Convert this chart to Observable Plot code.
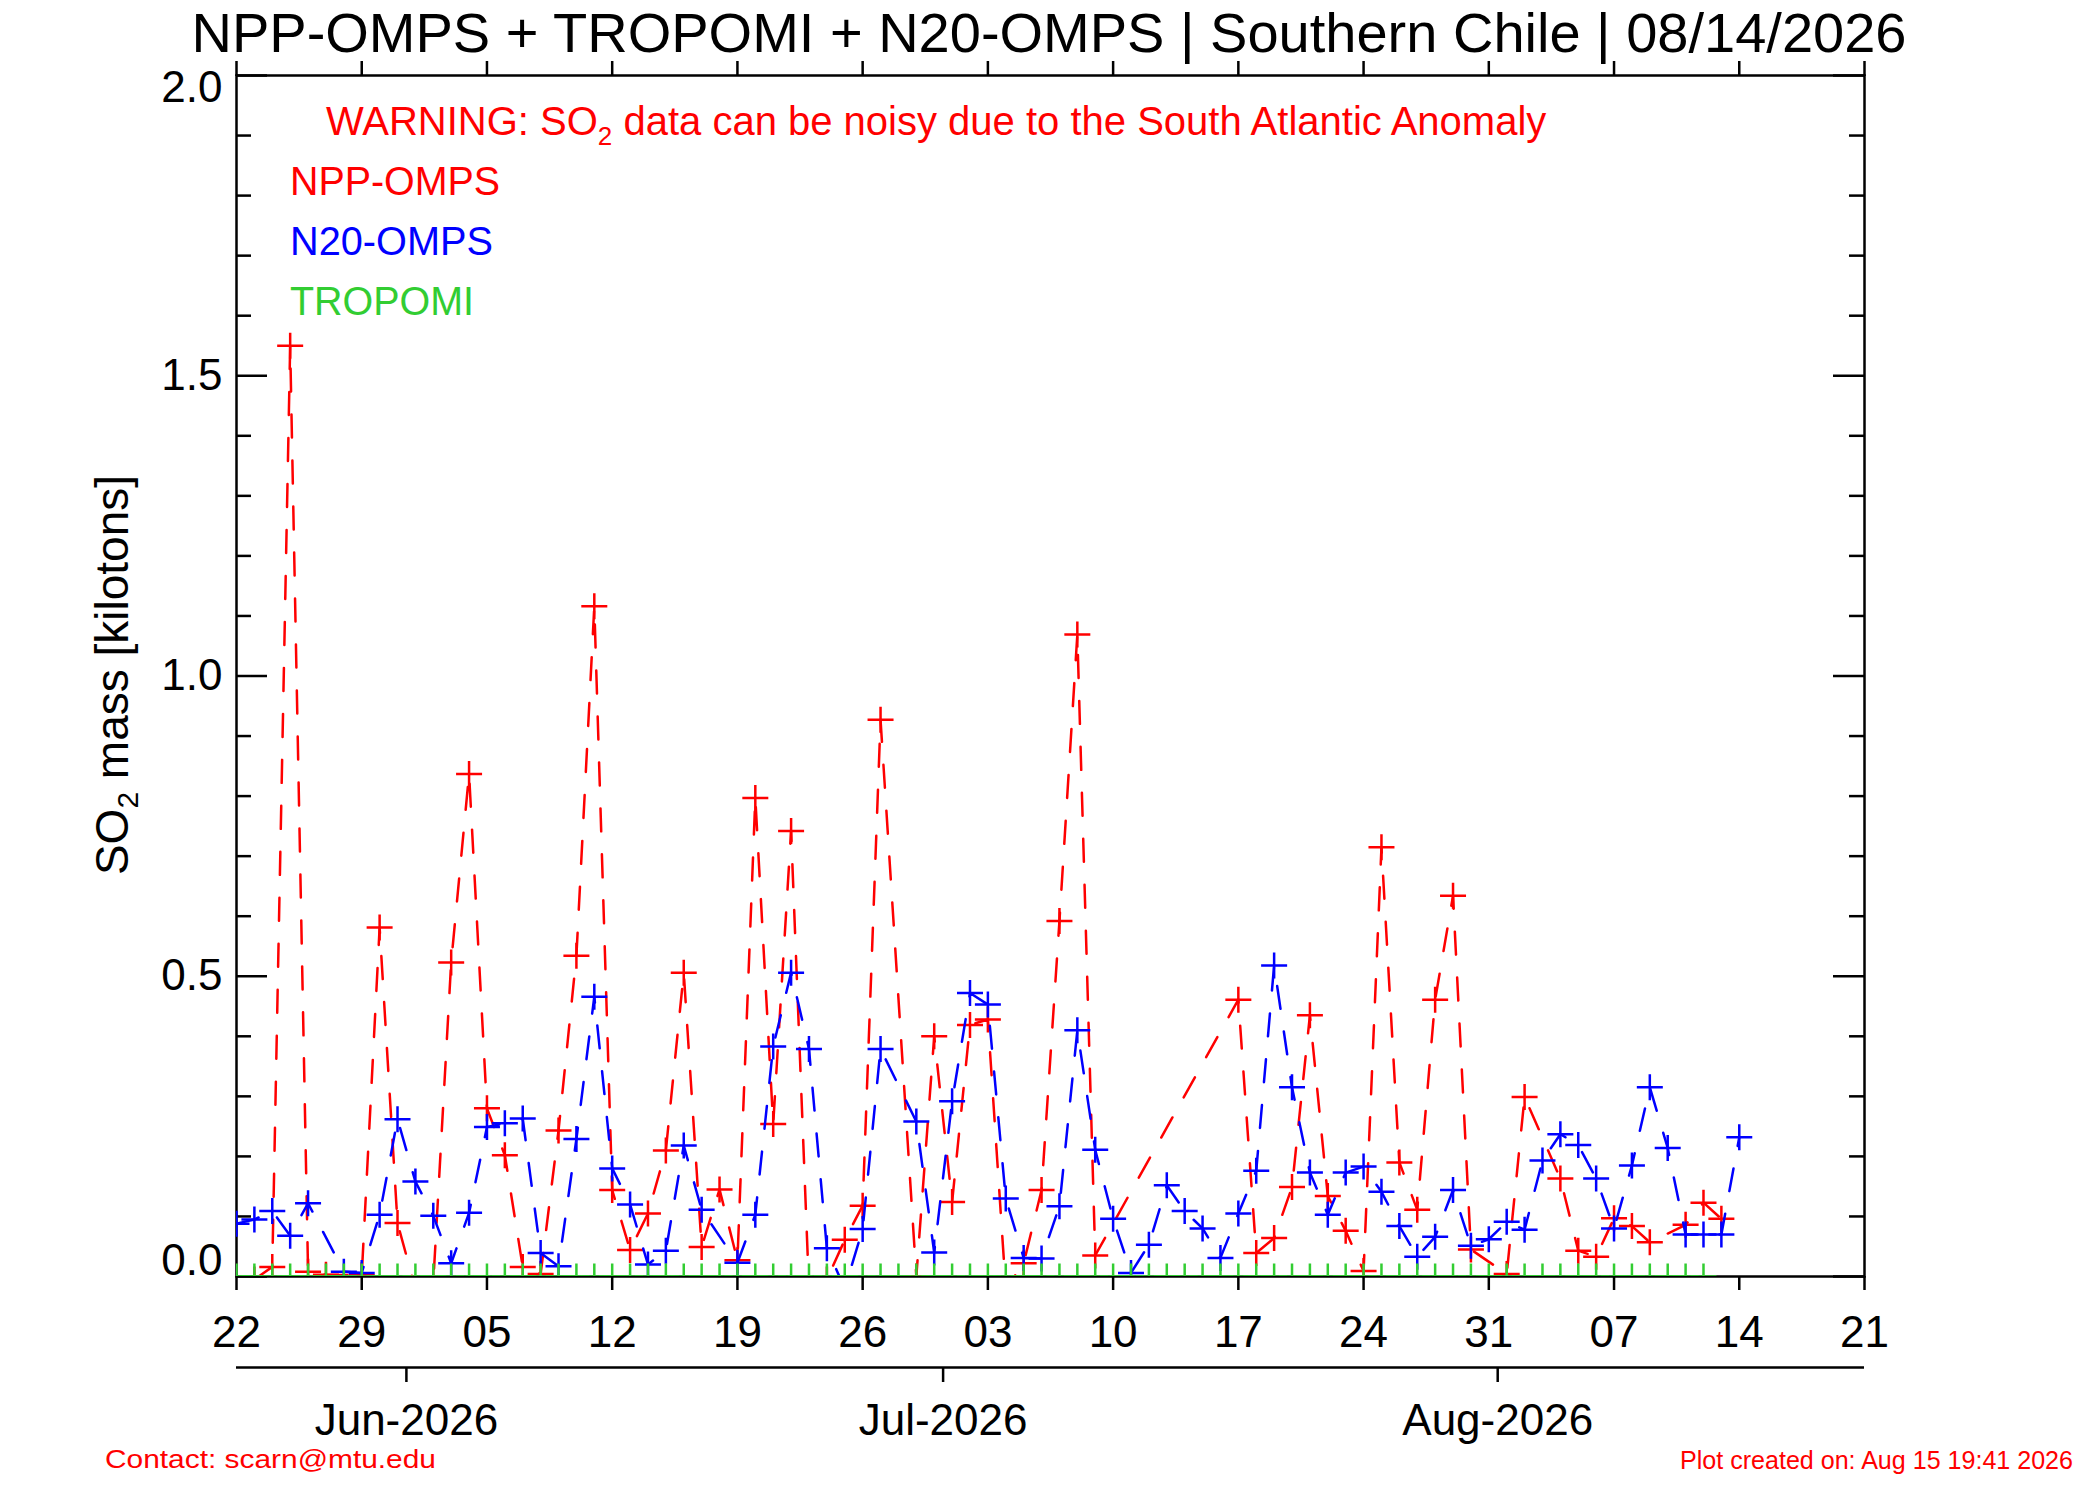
<!DOCTYPE html>
<html><head><meta charset="utf-8">
<script src="https://cdn.jsdelivr.net/npm/d3@7"></script>
<script src="https://cdn.jsdelivr.net/npm/@observablehq/plot@0.6"></script>
<style>body{margin:0;background:#fff;} svg{display:block}</style>
</head><body><div id="chart"></div>
<script>
const year = "2026";

// NPP-OMPS (red)
const nppDates = ["05-23","05-24","05-25","05-26","05-27","05-29","05-30","05-31",
  "06-01","06-02","06-03","06-04","06-05","06-06","06-07","06-08","06-09","06-10","06-11","06-12","06-13","06-14","06-15","06-16","06-17","06-18","06-19","06-20","06-21","06-22","06-23","06-24","06-25","06-26","06-27","06-29","06-30",
  "07-01","07-02","07-03","07-04","07-05","07-06","07-07","07-08","07-09","07-17","07-18","07-19","07-20","07-21","07-22","07-23","07-24","07-25","07-26","07-27","07-28","07-29","07-30",
  "08-01","08-02","08-04","08-05","08-06","08-07","08-08","08-09","08-11","08-12","08-13"];
const nppValues = [-0.005,0.016,1.55,0.008,0.003,0.002,0.581,0.089,
  -0.02,-0.01,0.523,0.837,0.280,0.202,0.016,0.004,0.243,0.534,1.116,0.144,0.044,0.105,0.210,0.506,0.049,0.145,0.027,0.797,0.254,0.742,-0.02,-0.005,0.061,0.118,0.927,0.0,0.400,
  0.124,0.419,0.428,-0.02,0.022,0.144,0.592,1.069,0.035,0.461,0.039,0.064,0.149,0.435,0.134,0.076,0.009,0.715,0.190,0.111,0.461,0.634,0.045,
  0.004,0.299,0.163,0.043,0.033,0.097,0.084,0.057,0.086,0.123,0.096];

// N20-OMPS (blue)
const n20Dates = ["05-22","05-23","05-24","05-25","05-26","05-28","05-29","05-30","05-31",
  "06-01","06-02","06-03","06-04","06-05","06-06","06-07","06-08","06-09","06-10","06-11","06-12","06-13","06-14","06-15","06-16","06-17","06-19","06-20","06-21","06-22","06-23","06-24","06-25","06-26","06-27","06-29","06-30",
  "07-01","07-02","07-03","07-04","07-05","07-06","07-07","07-08","07-09","07-10","07-11","07-12","07-13","07-14","07-15","07-16","07-17","07-18","07-19","07-20","07-21","07-22","07-23","07-24","07-25","07-26","07-27","07-28","07-29","07-30","07-31",
  "08-01","08-02","08-03","08-04","08-05","08-06","08-07","08-08","08-09","08-10","08-11","08-12","08-13","08-14"];
const n20Values = [0.088,0.095,0.109,0.068,0.122,0.008,0.006,0.103,0.262,
  0.158,0.101,0.022,0.106,0.249,0.255,0.263,0.039,0.017,0.229,0.466,0.180,0.120,0.020,0.043,0.218,0.111,0.023,0.103,0.383,0.506,0.379,0.047,-0.02,0.079,0.379,0.258,0.040,
  0.292,0.472,0.453,0.130,0.031,0.030,0.117,0.410,0.211,0.096,0.006,0.053,0.152,0.109,0.080,0.031,0.105,0.176,0.518,0.315,0.173,0.103,0.173,0.183,0.141,0.084,0.033,0.066,0.144,0.051,0.062,
  0.091,0.078,0.193,0.237,0.219,0.163,0.080,0.185,0.315,0.214,0.070,0.070,0.070,0.232];

// TROPOMI (green)
const tropomiDates = ["05-22","05-23","05-24","05-25","05-26","05-27","05-28","05-29","05-30","05-31",
  "06-01","06-02","06-03","06-04","06-05","06-06","06-07","06-08","06-09","06-10","06-11","06-12","06-13","06-14","06-15","06-16","06-17","06-18","06-19","06-20","06-21","06-22","06-23","06-24","06-25","06-26","06-27","06-28","06-29","06-30",
  "07-01","07-02","07-03","07-04","07-05","07-06","07-07","07-08","07-09","07-10","07-11","07-12","07-13","07-14","07-15","07-16","07-17","07-18","07-19","07-20","07-21","07-22","07-23","07-24","07-25","07-26","07-27","07-28","07-29","07-30","07-31",
  "08-01","08-02","08-03","08-04","08-05","08-06","08-07","08-08","08-09","08-10","08-11","08-12"];
const tropomiValues = [0,0,0,0,0,0,0,0,0,0,
  0,0,0,0,0,0,0,0,0,0,0,0,0,0,0,0,0,0,0,0,0,0,0,0,0,0,0,0,0,0,
  0,0,0,0,0,0,0,0,0,0,0,0,0,0,0,0,0,0,0,0,0,0,0,0,0,0,0,0,0,0,0,
  0,0,0,0,0,0,0,0,0,0,0,0];

// Axis ticks
const weekTicks = ["05-22","05-29","06-05","06-12","06-19","06-26","07-03","07-10","07-17","07-24","07-31","08-07","08-14","08-21"];
const monthTicks = ["06-01","07-01","08-01"];
const yMajorTicks = [0, 0.5, 1.0, 1.5, 2.0];
const yMinorTicks = [0.1,0.2,0.3,0.4,0.6,0.7,0.8,0.9,1.1,1.2,1.3,1.4,1.6,1.7,1.8,1.9];

const parse = s => new Date(`${year}-${s}T00:00:00Z`);
const toRows = (dates, values) => dates.map((d, i) => ({date: parse(d), value: values[i]}));
const npp = toRows(nppDates, nppValues);
const n20 = toRows(n20Dates, n20Values);
const tropomi = toRows(tropomiDates, tropomiValues);
const weekDates = weekTicks.map(parse);
const monthDates = monthTicks.map(parse);
const yTop = yMajorTicks[yMajorTicks.length - 1], yBottom = yMajorTicks[0];
const yMiddle = yMajorTicks.slice(1, -1);

const W = 2100, H = 1500, mL = 236, mR = 236, mT = 75, mB = 224;
const fw = W - mL - mR;
const plus = {draw(ctx, size) { const r = Math.sqrt(size / Math.PI); ctx.moveTo(-r, 0); ctx.lineTo(r, 0); ctx.moveTo(0, -r); ctx.lineTo(0, r); }};
const series = (rows, color) => [
  Plot.line(rows, {x: "date", y: "value", stroke: color, strokeWidth: 2.5, strokeDasharray: "23,23", clip: true}),
  Plot.dot(rows, {x: "date", y: "value", symbol: plus, r: 13, stroke: color, fill: "none", strokeWidth: 2.5, clip: true})
];
const FONT = "'Liberation Sans', Arial, Helvetica, sans-serif";
const yLabelOpts = {anchor: "left", tickSize: 0, tickPadding: 14, tickFormat: d3.format(".1f"), fontSize: 44, label: null};

const chart = Plot.plot({
  width: W, height: H, marginLeft: mL, marginRight: mR, marginTop: mT, marginBottom: mB,
  style: {fontFamily: FONT, color: "black", background: "white", overflow: "visible"},
  x: {type: "utc", domain: [weekDates[0], weekDates[weekDates.length - 1]]},
  y: {domain: [yBottom, yTop]},
  marks: [
    Plot.frame({stroke: "black", strokeWidth: 2.5}),
    Plot.tickY(yMinorTicks, {y: d => d, insetRight: fw - 15, strokeWidth: 2.5}),
    Plot.tickY(yMajorTicks, {y: d => d, insetRight: fw - 31, strokeWidth: 2.5}),
    Plot.tickY(yMinorTicks, {y: d => d, insetLeft: fw - 15, strokeWidth: 2.5}),
    Plot.tickY(yMajorTicks, {y: d => d, insetLeft: fw - 31, strokeWidth: 2.5}),
    Plot.axisY({...yLabelOpts, ticks: yMiddle}),
    Plot.axisY({...yLabelOpts, ticks: [yTop], dy: 12}),
    Plot.axisY({...yLabelOpts, ticks: [yBottom], dy: -16}),
    Plot.axisX({anchor: "bottom", ticks: weekDates, tickSize: 14, tickPadding: 25, tickFormat: d3.utcFormat("%d"), fontSize: 44, strokeWidth: 2.5, label: null}),
    Plot.axisX({anchor: "top", ticks: weekDates, tickSize: 15, tickFormat: () => "", strokeWidth: 2.5, label: null}),
    Plot.ruleY([yBottom], {dy: 91, strokeWidth: 2.5}),
    Plot.axisX({anchor: "bottom", ticks: monthDates, tickSize: 15, tickPadding: 21, dy: 91, dx: -9, tickFormat: d3.utcFormat("%b-%Y"), fontSize: 44, strokeWidth: 2.5, label: null}),
    ...series(npp, "#ff0000"),
    ...series(n20, "#0000ff"),
    ...series(tropomi, "#32cd32")
  ]
});
document.getElementById("chart").appendChild(chart);

const svg = d3.select(chart);
const addText = (x, y, str, size, color, len, anchor = "start") =>
  svg.append("text").attr("x", x).attr("y", y).attr("font-family", FONT).attr("font-size", size)
    .attr("fill", color).attr("text-anchor", anchor)
    .attr("textLength", len).attr("lengthAdjust", "spacingAndGlyphs").text(str);

addText(1049, 52, "NPP-OMPS + TROPOMI + N20-OMPS | Southern Chile | 08/14/2026", 56, "black", 1715, "middle");

const warn = svg.append("text").attr("x", 326).attr("y", 135).attr("font-family", FONT).attr("font-size", 40)
  .attr("text-anchor", "start").attr("fill", "#ff0000");
warn.append("tspan").text("WARNING: SO");
warn.append("tspan").attr("font-size", 26).attr("dy", 10).text("2");
warn.append("tspan").attr("dy", -10).text(" data can be noisy due to the South Atlantic Anomaly");

addText(290, 195, "NPP-OMPS", 40, "#ff0000", 210);
addText(290, 255, "N20-OMPS", 40, "#0000ff", 203);
addText(290, 315, "TROPOMI", 40, "#32cd32", 184);

const ylab = svg.append("text").attr("transform", "translate(128,675) rotate(-90)").attr("text-anchor", "middle")
  .attr("font-family", FONT).attr("font-size", 46).attr("fill", "black");
ylab.append("tspan").text("SO");
ylab.append("tspan").attr("font-size", 30).attr("dy", 10).text("2");
ylab.append("tspan").attr("dy", -10).text(" mass [kilotons]");

addText(105, 1468, "Contact: scarn@mtu.edu", 25, "#ff0000", 331);
addText(1680, 1469, "Plot created on: Aug 15 19:41 2026", 25, "#ff0000", 393);
</script>
</body></html>
